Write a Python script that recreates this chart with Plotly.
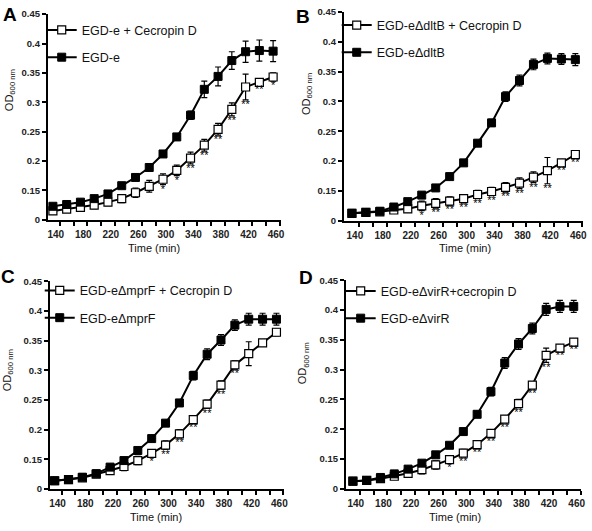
import plotly.graph_objects as go

time_min = [130, 150, 170, 190, 210, 230, 250, 270, 290, 310, 330, 350, 370, 390, 410, 430, 450]

# Panel A
a_ctrl = [0.123, 0.126, 0.130, 0.136, 0.144, 0.158, 0.172, 0.189, 0.212, 0.241, 0.278, 0.322, 0.344, 0.371, 0.386, 0.388, 0.387]
a_ctrl_err = [0.004, 0.004, 0.004, 0.004, 0.004, 0.004, 0.004, 0.004, 0.004, 0.005, 0.007, 0.014, 0.016, 0.015, 0.018, 0.018, 0.018]
a_cec = [0.115, 0.118, 0.121, 0.125, 0.130, 0.136, 0.146, 0.157, 0.169, 0.184, 0.205, 0.227, 0.254, 0.288, 0.326, 0.334, 0.343]
a_cec_err = [0.004, 0.004, 0.005, 0.006, 0.006, 0.007, 0.008, 0.010, 0.009, 0.009, 0.010, 0.010, 0.010, 0.011, 0.022, 0.004, 0.007]
a_sig = ["", "", "", "", "", "", "", "", "*", "*", "**", "**", "**", "**", "**", "**", "*"]

# Panel B
b_ctrl = [0.1125, 0.114, 0.116, 0.123, 0.132, 0.143, 0.155, 0.174, 0.197, 0.230, 0.264, 0.308, 0.335, 0.362, 0.372, 0.371, 0.370]
b_ctrl_err = [0.003, 0.003, 0.003, 0.003, 0.003, 0.003, 0.003, 0.003, 0.003, 0.004, 0.006, 0.008, 0.009, 0.009, 0.009, 0.009, 0.010]
b_cec = [0.1125, 0.114, 0.115, 0.118, 0.120, 0.125, 0.129, 0.133, 0.137, 0.144, 0.149, 0.156, 0.163, 0.173, 0.184, 0.197, 0.211]
b_cec_err = [0.003, 0.003, 0.003, 0.004, 0.006, 0.008, 0.008, 0.007, 0.007, 0.007, 0.007, 0.008, 0.009, 0.009, 0.022, 0.004, 0.005]
b_sig = ["", "", "", "", "", "*", "**", "**", "**", "**", "**", "**", "**", "**", "**", "**", "**"]

# Panel C
c_ctrl = [0.114, 0.116, 0.120, 0.126, 0.137, 0.148, 0.165, 0.185, 0.211, 0.245, 0.291, 0.327, 0.351, 0.376, 0.386, 0.386, 0.386]
c_ctrl_err = [0.003, 0.003, 0.003, 0.003, 0.003, 0.003, 0.003, 0.003, 0.003, 0.005, 0.007, 0.009, 0.009, 0.009, 0.010, 0.010, 0.010]
c_cec = [0.114, 0.116, 0.119, 0.125, 0.131, 0.138, 0.148, 0.160, 0.174, 0.193, 0.217, 0.243, 0.275, 0.309, 0.328, 0.346, 0.364]
c_cec_err = [0.003, 0.003, 0.005, 0.004, 0.005, 0.007, 0.007, 0.006, 0.007, 0.007, 0.006, 0.007, 0.007, 0.007, 0.020, 0.003, 0.006]
c_sig = ["", "", "", "", "", "", "", "*", "**", "**", "**", "**", "**", "**", "", "", ""]

# Panel D
d_ctrl = [0.1127, 0.114, 0.119, 0.125, 0.133, 0.143, 0.157, 0.173, 0.196, 0.225, 0.263, 0.311, 0.343, 0.369, 0.401, 0.406, 0.406]
d_ctrl_err = [0.003, 0.003, 0.003, 0.003, 0.003, 0.003, 0.003, 0.003, 0.003, 0.005, 0.007, 0.009, 0.009, 0.009, 0.010, 0.010, 0.010]
d_cec = [0.1127, 0.114, 0.117, 0.121, 0.126, 0.132, 0.140, 0.149, 0.160, 0.174, 0.193, 0.217, 0.243, 0.274, 0.324, 0.336, 0.346]
d_cec_err = [0.003, 0.003, 0.006, 0.005, 0.006, 0.007, 0.007, 0.006, 0.006, 0.006, 0.006, 0.006, 0.007, 0.006, 0.012, 0.004, 0.005]
d_sig = ["", "", "", "", "", "", "", "*", "**", "**", "**", "**", "**", "**", "**", "**", "**"]

panel_letters = ["A", "B", "C", "D"]
ctrl_names = ["EGD-e", "EGD-e\u0394dltB", "EGD-e\u0394mprF", "EGD-e\u0394virR"]
cec_names = ["EGD-e + Cecropin D", "EGD-e\u0394dltB + Cecropin D", "EGD-e\u0394mprF + Cecropin D", "EGD-e\u0394virR+cecropin D"]

x_tickvals = [140, 160, 180, 200, 220, 240, 260, 280, 300, 320, 340, 360, 380, 400, 420, 440, 460]
x_ticktext = ["140", "", "180", "", "220", "", "260", "", "300", "", "340", "", "380", "", "420", "", "460"]
y_tickvals = [0.1, 0.15, 0.2, 0.25, 0.3, 0.35, 0.4, 0.45]
y_ticktext = ["0", "0.15", "0.2", "0.25", "0.3", "0.35", "0.4", "0.45"]

W, H = 592, 531
panels = [
    dict(ctrl=a_ctrl, ce=a_ctrl_err, cec=a_cec, cece=a_cec_err, sig=a_sig,
         px=(48, 282.6), py=(8.3, 218.3), xr=(122.4, 461), leg=(42, 9.5),
         letter=(10, 9), xt=(155, 247), yt=(10, 86)),
    dict(ctrl=b_ctrl, ce=b_ctrl_err, cec=b_cec, cece=b_cec_err, sig=b_sig,
         px=(346, 587), py=(6, 219.3), xr=(118.2, 461), leg=(339, 4.5),
         letter=(305, 11), xt=(468, 247), yt=(309, 90)),
    dict(ctrl=c_ctrl, ce=c_ctrl_err, cec=c_cec, cece=c_cec_err, sig=c_sig,
         px=(50, 286), py=(281, 493.3), xr=(122.8, 461), leg=(40, 275.5),
         letter=(8, 276), xt=(157, 522), yt=(8, 372)),
    dict(ctrl=d_ctrl, ce=d_ctrl_err, cec=d_cec, cece=d_cec_err, sig=d_sig,
         px=(348, 585.3), py=(280, 493), xr=(119.5, 461), leg=(343, 276),
         letter=(308, 277), xt=(458, 522), yt=(306, 365)),
]

fig = go.Figure()
annotations = []
font_main = "Arial"

for i, p in enumerate(panels):
    n = i + 1
    xa = "x" if n == 1 else f"x{n}"
    ya = "y" if n == 1 else f"y{n}"
    lg = "legend" if n == 1 else f"legend{n}"
    fig.add_trace(go.Scatter(
        x=time_min, y=p["cec"], xaxis=xa, yaxis=ya, mode="lines+markers",
        name=cec_names[i], legend=lg, legendgroup=f"g{n}a",
        line=dict(color="black", width=2),
        marker=dict(symbol="square", size=8, color="white", line=dict(color="black", width=1.2)),
        error_y=dict(type="data", array=p["cece"], color="black", thickness=1.2, width=3),
        cliponaxis=False,
    ))
    fig.add_trace(go.Scatter(
        x=time_min, y=p["ctrl"], xaxis=xa, yaxis=ya, mode="lines+markers",
        name=ctrl_names[i], legend=lg, legendgroup=f"g{n}b",
        line=dict(color="black", width=2),
        marker=dict(symbol="square", size=8, color="black", line=dict(color="black", width=1)),
        error_y=dict(type="data", array=p["ce"], color="black", thickness=1.2, width=3),
        cliponaxis=False,
    ))
    low = [v - e for v, e in zip(p["cec"], p["cece"])]
    fig.add_trace(go.Scatter(
        x=time_min, y=low, xaxis=xa, yaxis=ya, mode="text", text=p["sig"],
        textposition="bottom center", textfont=dict(size=11, color="black", family=font_main),
        showlegend=False, hoverinfo="skip", cliponaxis=False,
    ))

    x0, x1 = p["px"]
    yt0, yb0 = p["py"]
    xdom = [x0 / W, x1 / W]
    ydom = [1 - yb0 / H, 1 - yt0 / H]
    axis_key_x = "xaxis" if n == 1 else f"xaxis{n}"
    axis_key_y = "yaxis" if n == 1 else f"yaxis{n}"
    fig.update_layout(**{
        axis_key_x: dict(domain=xdom, anchor=ya, range=list(p["xr"]), tickvals=x_tickvals, ticktext=x_ticktext,
                         ticks="outside", ticklen=4, tickwidth=1.5, tickcolor="black",
                         showline=True, linecolor="black", linewidth=1.5, showgrid=False, zeroline=False,
                         tickfont=dict(size=10, color="#222", family=font_main, weight="bold"),
                         ticklabelshift=-4, fixedrange=True),
        axis_key_y: dict(domain=ydom, anchor=xa, range=[0.1, 0.45], tickvals=y_tickvals, ticktext=y_ticktext,
                         ticks="outside", ticklen=4, tickwidth=1.5, tickcolor="black",
                         showline=True, linecolor="black", linewidth=1.5, showgrid=False, zeroline=False,
                         tickfont=dict(size=9.5, color="#222", family=font_main, weight="bold"),
                         fixedrange=True),
        lg: dict(x=p["leg"][0] / W, y=1 - p["leg"][1] / H, xanchor="left", yanchor="top",
                 bgcolor="rgba(0,0,0,0)", traceorder="grouped", tracegroupgap=8,
                 font=dict(size=12.5, color="#111", family=font_main)),
    })
    lx, ly = p["letter"]
    annotations.append(dict(text=f"<b>{panel_letters[i]}</b>", x=lx / W, y=1 - ly / H, xref="paper", yref="paper",
                            xanchor="center", yanchor="middle", showarrow=False,
                            font=dict(size=19, color="black", family=font_main)))
    tx, ty = p["xt"]
    annotations.append(dict(text="Time (min)", x=tx / W, y=1 - ty / H, xref="paper", yref="paper",
                            xanchor="center", yanchor="middle", showarrow=False,
                            font=dict(size=11, color="#111", family=font_main)))
    vx, vy = p["yt"]
    annotations.append(dict(text="OD<sub>600 nm</sub>", x=vx / W, y=1 - vy / H, xref="paper", yref="paper",
                            xanchor="center", yanchor="middle", textangle=-90, showarrow=False,
                            font=dict(size=11, color="#111", family=font_main)))

fig.update_layout(
    width=W, height=H, margin=dict(l=0, r=0, t=0, b=0),
    paper_bgcolor="white", plot_bgcolor="white",
    annotations=annotations, showlegend=True, hovermode=False,
)

fig.write_html("out.html", config={"displayModeBar": False, "staticPlot": False},
               post_script="document.body.style.margin='0';document.body.style.overflow='hidden';")
